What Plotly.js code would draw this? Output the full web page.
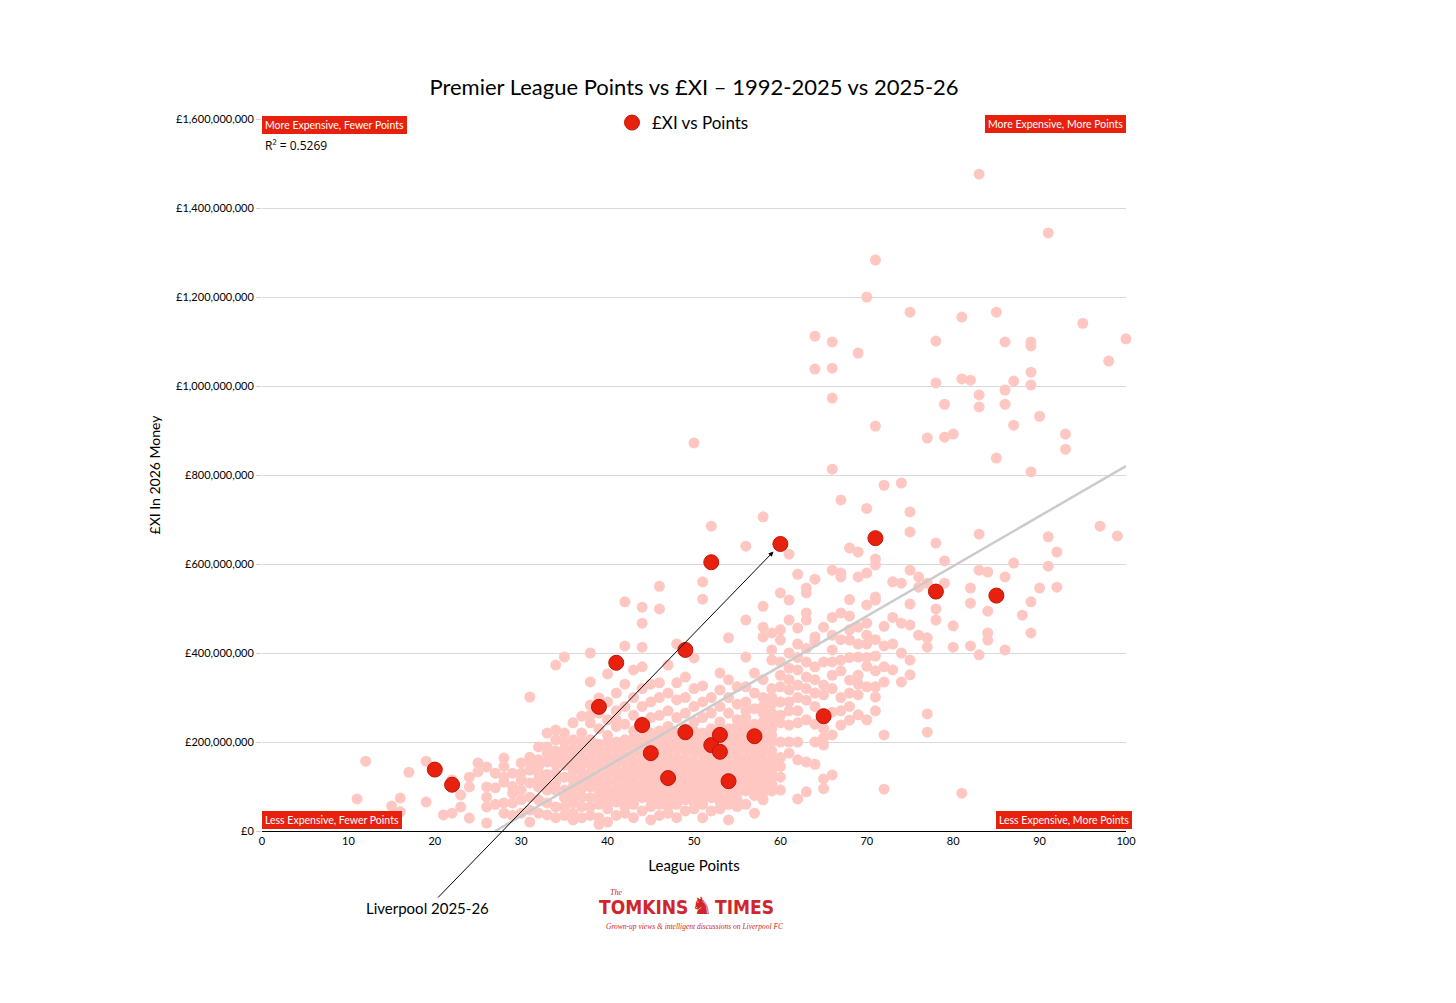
<!DOCTYPE html>
<html>
<head>
<meta charset="utf-8">
<script src="https://cdn.plot.ly/plotly-3.0.1.min.js"></script>
<style>html,body{margin:0;padding:0;background:#fff;}#chart{width:1456px;height:1003px;}</style>
</head>
<body>
<div id="chart"></div>
<script>
// 2025-26 season: league points and £XI (in £ millions, 2026 money)
const currentPoints = [20,22,39,41,44,45,47,49,49,52,52,53,53,54,57,60,65,71,78,85];
const currentValues = [138,104,279,378,238,175,119,222,407,604,193,216,178,112,213,645,258,658,538,529];

// 1992-2025 seasons: [league points, [£XI values in £ millions]]
const historicColumns = [
  [11,[72]],
  [12,[157]],
  [15,[56]],
  [16,[74,43]],
  [17,[132]],
  [19,[157,65]],
  [21,[36]],
  [22,[40,115]],
  [23,[81,54]],
  [24,[121,99,29]],
  [25,[153,133]],
  [26,[144,99,76,54,18]],
  [27,[97,60,130]],
  [28,[164,121,63,40,110,145]],
  [29,[85,63,130,100,35]],
  [30,[153,130,92,70,40,115]],
  [31,[301,166,137,108,76,47,155,20]],
  [32,[189,160,130,99,70,40,115,145]],
  [33,[220,189,155,127,92,63,36,175,108]],
  [34,[373,227,205,166,130,92,54,180,150,110,30]],
  [35,[391,220,182,148,121,92,54,200,165,75,35]],
  [36,[243,205,166,135,99,63,40,185,150,115,80,25]],
  [37,[258,220,182,148,112,76,200,165,130,95,55,30]],
  [38,[400,335,283,243,205,166,130,99,54,260,185,150,115,75,35]],
  [39,[299,265,230,195,160,125,90,60,30,180,145,110,75,15]],
  [40,[353,290,250,215,180,145,110,80,50,20,200,165,130,95,65]],
  [41,[310,270,235,200,165,130,95,65,35,185,150,115,80,250]],
  [42,[515,416,330,280,240,205,170,135,100,70,40,190,155,120,85,55]],
  [43,[362,300,260,225,190,155,120,90,60,30,210,175,140,105,75]],
  [44,[503,467,413,369,320,280,245,210,175,140,105,75,45,195,160,125,90]],
  [45,[330,290,255,220,185,150,115,85,55,25,200,165,130,100,70]],
  [46,[550,499,333,300,260,225,190,155,120,90,60,35,210,175,140,105,75]],
  [47,[373,310,270,235,200,165,130,100,70,40,215,180,145,115,85,55]],
  [48,[420,333,295,255,220,185,150,120,90,60,30,200,165,135,105,75]],
  [49,[346,300,265,230,195,160,130,100,70,45,210,180,145,115,85]],
  [50,[872,389,320,280,245,210,175,140,110,80,50,225,190,155,125,95,65]],
  [51,[560,521,326,290,255,220,185,150,120,90,60,30,200,170,135,105,75]],
  [52,[685,300,265,230,200,165,135,105,75,45,215,180,150,120,90]],
  [53,[355,317,280,245,210,175,140,110,80,50,230,195,160,125,95,65]],
  [54,[434,340,300,265,230,195,160,125,95,60,25,215,180,145,110,75]],
  [55,[324,285,250,215,180,145,115,85,55,235,200,165,130,100,70]],
  [56,[640,474,391,324,290,255,220,185,150,120,90,60,270,235,200,165,135,105]],
  [57,[355,310,275,240,205,170,140,110,80,40,225,190,155,125,95]],
  [58,[706,505,458,436,340,300,265,230,195,160,130,100,70,280,245,210,180,145,115,85]],
  [59,[445,407,384,320,285,250,215,180,150,120,90,300,265,230,200,165,135,105]],
  [60,[535,452,429,324,243,200,121,92,380,290,165,145,350,260]],
  [61,[622,519,474,366,317,238,175,400,270,200,340,290]],
  [62,[577,456,420,362,328,243,160,72,300,390,270,200]],
  [63,[546,535,490,474,346,294,155,88,250,410,380,320]],
  [64,[1112,1038,566,436,425,369,310,280,200,340,240,150]],
  [65,[458,328,306,209,193,117,380,250,230,95]],
  [66,[1099,1040,973,813,586,407,380,267,216,126,480,350,320,440]],
  [67,[744,580,571,490,384,238,300,430,360,270]],
  [68,[636,483,452,429,339,249,520,280,390,310]],
  [69,[1074,627,571,458,391,306,261,350,420,330]],
  [70,[1200,725,580,508,467,420,324,370,440,390,250]],
  [71,[1283,910,611,598,526,519,393,324,301,270,360,430]],
  [72,[777,416,369,335,216,94,460]],
  [73,[560,362,480,420]],
  [74,[782,557,467,335,400]],
  [75,[1166,717,672,586,510,463,384,351]],
  [76,[571,548,440]],
  [77,[883,557,434,413,263,222]],
  [78,[1101,1007,647,499,474]],
  [79,[959,885,607,557]],
  [80,[892,461,413]],
  [81,[1155,1016,85]],
  [82,[1013,546,512,416]],
  [83,[1476,980,953,667,586,396]],
  [84,[582,494,445,429]],
  [85,[1166,838]],
  [86,[1099,991,959,571,407]],
  [87,[1011,912,602]],
  [88,[485]],
  [89,[1099,1090,1031,1002,807,515,445]],
  [90,[932,546]],
  [91,[1344,661,595]],
  [92,[627,548]],
  [93,[892,858]],
  [95,[1141]],
  [97,[685]],
  [98,[1056]],
  [99,[663]],
  [100,[1106]]
];

// Trend line end points (points, £ millions)
const trendPoints = [27, 100];
const trendValues = [0, 820];

const yTicks = [0,200,400,600,800,1000,1200,1400,1600];
const yTickLabels = ['£0','£200,000,000','£400,000,000','£600,000,000','£800,000,000','£1,000,000,000','£1,200,000,000','£1,400,000,000','£1,600,000,000'];
const xTicks = [0,10,20,30,40,50,60,70,80,90,100];

const M = 1e6;
const histX = [], histY = [];
historicColumns.forEach(([p, vals]) => vals.forEach(v => { histX.push(p); histY.push(v * M); }));

const FONT = 'Lato, "Open Sans", sans-serif';
const RED = '#E8210F';
const LOGO = '#D0262B';
const LOGOFONT = '"DejaVu Sans Condensed", "Liberation Sans Narrow", "Roboto", sans-serif';

const traces = [
  {
    x: histX, y: histY, type: 'scatter', mode: 'markers', showlegend: false,
    marker: {color: 'rgb(255,199,194)', size: 11}, hoverinfo: 'x+y', cliponaxis: false
  },
  {
    x: trendPoints, y: trendValues.map(v => v * M), type: 'scatter', mode: 'lines', showlegend: false,
    line: {color: '#cbcbcb', width: 2.5}, hoverinfo: 'skip'
  },
  {
    x: currentPoints, y: currentValues.map(v => v * M), type: 'scatter', mode: 'markers',
    name: '£XI vs Points',
    marker: {color: RED, size: 15, line: {color: '#C01508', width: 1}}, cliponaxis: false
  }
];

const labelBox = (text, x, y, xanchor, yanchor) => ({
  text: text, xref: 'paper', yref: 'paper', x: x, y: y, xanchor: xanchor, yanchor: yanchor,
  showarrow: false, bgcolor: RED, bordercolor: RED, borderpad: 2,
  font: {family: FONT, size: 10.5, color: '#ffffff'}
});

const layout = {
  width: 1456, height: 1003,
  paper_bgcolor: '#ffffff', plot_bgcolor: '#ffffff',
  margin: {l: 262, r: 330, t: 119, b: 172},
  font: {family: FONT, color: '#000'},
  title: {
    text: 'Premier League Points vs £XI – 1992-2025 vs 2025-26',
    x: 694/1456, xanchor: 'center', y: 1 - 87/1003, yanchor: 'middle',
    font: {family: FONT, size: 22, color: '#000'}
  },
  xaxis: {
    range: [0, 100], tickvals: xTicks, showgrid: false, zeroline: false,
    showline: true, linecolor: '#000', linewidth: 1.2, ticks: '',
    tickfont: {family: FONT, size: 11, color: '#000'},
    title: {text: 'League Points', font: {family: FONT, size: 15, color: '#000'}, standoff: 14}
  },
  yaxis: {
    range: [0, 1600 * M], tickvals: yTicks.map(v => v * M), ticktext: yTickLabels,
    showgrid: true, gridcolor: '#d9d9d9', gridwidth: 1, zeroline: false, showline: false,
    ticks: 'outside', ticklen: 5, tickcolor: '#d0d0d0',
    tickfont: {family: FONT, size: 11, color: '#000'},
    title: {text: '£XI In 2026 Money', font: {family: FONT, size: 14, color: '#000'}, standoff: 12}
  },
  showlegend: true,
  legend: {
    orientation: 'h', x: (612 - 262) / 864, xanchor: 'left', y: (831 - 123) / 712, yanchor: 'middle',
    font: {family: FONT, size: 17, color: '#000'}, bgcolor: 'rgba(0,0,0,0)'
  },
  annotations: [
    labelBox('More Expensive, Fewer Points', 0, (831 - 116) / 712, 'left', 'top'),
    labelBox('More Expensive, More Points', 1, (831 - 115) / 712, 'right', 'top'),
    labelBox('Less Expensive, Fewer Points', 0, (831 - 829) / 712, 'left', 'bottom'),
    labelBox('Less Expensive, More Points', (1132 - 262) / 864, (831 - 829) / 712, 'right', 'bottom'),
    {
      text: 'R² = 0.5269', xref: 'paper', yref: 'paper', x: 0.001, y: (831 - 145) / 712,
      xanchor: 'left', yanchor: 'middle', showarrow: false,
      font: {family: '"Open Sans", sans-serif', size: 12, color: '#000'}
    },
    {
      text: 'Liverpool 2025-26', xref: 'x', yref: 'y', x: 59.2, y: 628 * M,
      axref: 'x', ayref: 'y', ax: 19.2, ay: -173 * M,
      showarrow: true, arrowhead: 2, arrowsize: 1, arrowwidth: 1, arrowcolor: '#000',
      font: {family: FONT, size: 15, color: '#000'}
    },
    {
      text: '<b>TOMKINS</b>', xref: 'paper', yref: 'paper', x: (690 - 262) / 864, y: (831 - 907) / 712,
      xanchor: 'right', yanchor: 'middle', showarrow: false,
      font: {family: LOGOFONT, size: 19, color: LOGO}
    },
    {
      text: '<b>TIMES</b>', xref: 'paper', yref: 'paper', x: (713 - 262) / 864, y: (831 - 907) / 712,
      xanchor: 'left', yanchor: 'middle', showarrow: false,
      font: {family: LOGOFONT, size: 19, color: LOGO}
    },
    {
      text: '<b>♞</b>', xref: 'paper', yref: 'paper', x: (702 - 262) / 864, y: (831 - 906) / 712,
      xanchor: 'center', yanchor: 'middle', showarrow: false,
      font: {family: '"DejaVu Sans", sans-serif', size: 24, color: LOGO}
    },
    {
      text: '<i>The</i>', xref: 'paper', yref: 'paper', x: (608 - 262) / 864, y: (831 - 892) / 712,
      xanchor: 'left', yanchor: 'middle', showarrow: false,
      font: {family: '"Liberation Serif", serif', size: 8, color: LOGO}
    },
    {
      text: '<i>Grown-up views &amp; intelligent discussions on Liverpool FC</i>', xref: 'paper', yref: 'paper',
      x: (695 - 262) / 864, y: (831 - 927) / 712,
      xanchor: 'center', yanchor: 'middle', showarrow: false,
      font: {family: '"Liberation Serif", serif', size: 7.5, color: LOGO}
    }
  ]
};

Plotly.newPlot('chart', traces, layout, {displayModeBar: false, responsive: false});
</script>
</body>
</html>
